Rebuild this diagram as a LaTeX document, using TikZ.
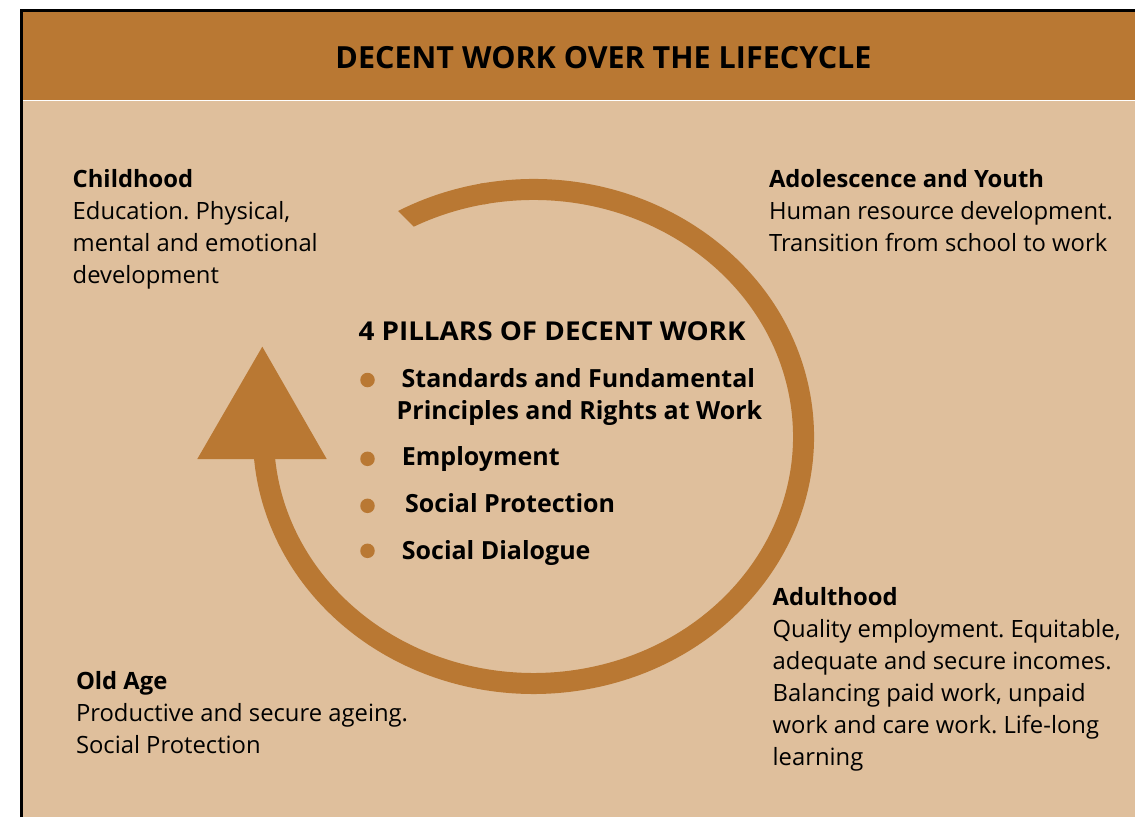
\documentclass[tikz,border=0pt]{standalone}
\usepackage{fontspec}
\setmainfont{Open Sans}
\newfontfamily\widefont{Open Sans}[FakeStretch=1.07]
\frenchspacing
\definecolor{band}{HTML}{B97833}
\definecolor{tan}{HTML}{DFBF9C}
\newcommand{\txtblock}[2]{\parbox[t]{#1pt}{\raggedright\fontsize{23.8}{32}\selectfont #2}}
\newcommand{\pilblock}[2]{\parbox[t]{#1pt}{\raggedright\bfseries\fontsize{25}{32}\selectfont #2}}
\tikzset{
  lbl/.style={anchor=base west, inner sep=0pt, outer sep=0pt},
  pillar/.style={anchor=base west, inner sep=0pt, font=\bfseries\fontsize{25}{32}\selectfont},
  dot/.style={circle, fill=band, minimum size=14.5pt, inner sep=0pt},
  cyclearc/.style={draw=band, line width=21pt},
}
\begin{document}
\begin{tikzpicture}[x=1pt,y=1pt]
\useasboundingbox (0,0) rectangle (1135,-817);
\fill[white] (0,0) rectangle (1135,-817);
% header band and body panel
\fill[band] (21,-11) rectangle (1135,-100);
\fill[tan] (21,-101) rectangle (1135,-817);
\draw[black, line width=2.4pt] (21.3,-817) -- (21.3,-10.5) -- (1135,-10.5);
\node[anchor=base, inner sep=0pt, font=\bfseries\fontsize{30.5}{30}\selectfont] (title) at (603.5,-68.3) {DECENT WORK OVER THE LIFECYCLE};

% lifecycle loop: slanted cut at its tail, then the main sweep
\begin{scope}
  \clip (190,-3) -- (640,-453) -- (640,-3) -- cycle;
  \draw[cyclearc] (386.45,-229.35) arc[start angle=123, end angle=100, x radius=270, y radius=247];
\end{scope}
\draw[cyclearc] (481.98,-194.04) arc[start angle=101, end angle=-175, x radius=270, y radius=247];
\fill[band] (262.3,-346.7) -- (197.3,-459) -- (326.7,-459) -- cycle;

% stages of life
\node[lbl] (child) at (72.7,-187.3) {\txtblock{300}{\textbf{Childhood}\\Education. Physical,\\mental and emotional\\development}};
\node[lbl] (youth) at (769,-187.3) {\txtblock{380}{\textbf{Adolescence and Youth}\\Human resource development.\\Transition from school to work}};
\node[lbl] (adult) at (772.7,-605) {\txtblock{380}{\textbf{Adulthood}\\Quality employment. Equitable,\\adequate and secure incomes.\\Balancing paid work, unpaid\\work and care work. Life-long\\learning}};
\node[lbl] (old) at (76,-689) {\txtblock{380}{\textbf{Old Age}\\Productive and secure ageing.\\Social Protection}};

% the four pillars
\node[anchor=base west, inner sep=0pt, font=\widefont\bfseries\fontsize{26}{32}\selectfont] (pillars) at (358.3,-340.7) {4 PILLARS OF DECENT WORK};
\node[dot] (d1) at (367.5,-380) {};
\node[dot] (d2) at (367.5,-458.8) {};
\node[dot] (d3) at (367.5,-505.8) {};
\node[dot] (d4) at (367.5,-550.8) {};
\node[lbl] (p1) at (396.7,-387.3) {\pilblock{420}{\hspace*{5pt}Standards and Fundamental\\Principles and Rights at Work}};
\node[pillar] (p2) at (401.7,-465.7) {Employment};
\node[pillar] (p3) at (405,-512.3) {Social Protection};
\node[pillar] (p4) at (401.7,-559.3) {Social Dialogue};
\end{tikzpicture}
\end{document}
